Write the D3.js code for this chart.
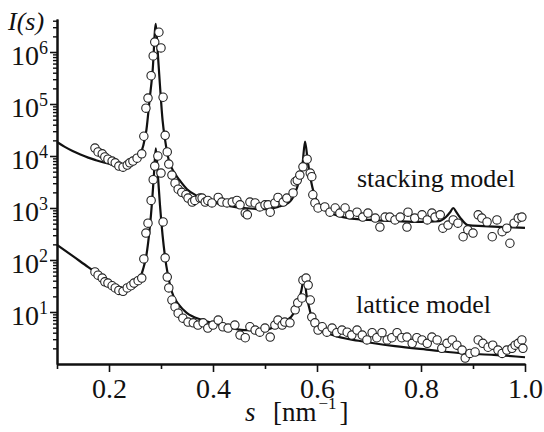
<!DOCTYPE html>
<html>
<head>
<meta charset="utf-8">
<script src="https://cdn.jsdelivr.net/npm/d3@7/dist/d3.min.js"></script>
<style>
  body { margin: 0; background: #fff; }
  svg { display: block; background: #fff; }
  svg text { font-family: "Liberation Serif", "DejaVu Serif", "Noto Serif", serif; }
</style>
</head>
<body>
<svg id="chart" width="544" height="432"></svg>
<script>
// ---- measured intensities, stacking model (upper set) ----
const stackS = [0.173,0.179,0.187,0.192,0.198,0.206,0.212,0.219,0.227,0.235,0.240,0.246,0.254,0.263,
  0.267,0.271,0.275,0.281,0.285,0.288,0.296,0.300,0.304,0.308,0.312,0.315,0.321,0.327,0.333,0.340,
  0.348,0.352,0.360,0.365,0.375,0.379,0.385,0.390,0.398,0.410,0.417,0.427,0.437,0.446,0.452,0.462,
  0.466,0.471,0.481,0.490,0.500,0.506,0.510,0.519,0.525,0.535,0.542,0.554,0.558,0.562,0.567,0.573,
  0.581,0.587,0.590,0.592,0.596,0.602,0.615,0.625,0.635,0.644,0.654,0.663,0.677,0.688,0.698,0.712,
  0.721,0.731,0.740,0.750,0.760,0.773,0.775,0.788,0.802,0.812,0.821,0.827,0.837,0.842,0.852,0.862,
  0.871,0.881,0.890,0.900,0.910,0.917,0.927,0.937,0.946,0.956,0.965,0.971,0.979,0.987,0.994];
const stackI = [1.42e4,1.2e4,1.1e4,9.6e3,8.7e3,8.0e3,7.4e3,6.4e3,6.1e3,6.7e3,7.4e3,8.0e3,9.1e3,1.1e4,
  2.4e4,8.3e4,1.3e5,3.5e5,8.4e5,1.55e6,2.4e6,1.2e6,1.35e5,2.5e4,1.2e4,7.0e3,4.3e3,3.0e3,2.3e3,2.0e3,
  1.8e3,1.55e3,1.3e3,1.4e3,1.55e3,1.55e3,1.3e3,1.4e3,1.25e3,1.6e3,1.3e3,1.25e3,1.3e3,1.4e3,1.15e3,800,
  740,1.3e3,1.25e3,1.05e3,1.15e3,1.15e3,830,1.25e3,1.6e3,1.3e3,1.55e3,1.95e3,3.2e3,3.4e3,4.3e3,6.2e3,
  8.7e3,4.7e3,4.0e3,1.8e3,1.25e3,1.0e3,1.05e3,830,1.0e3,800,1.0e3,740,830,670,800,640,
  430,670,670,590,670,430,830,640,740,590,800,670,740,410,470,590,
  510,280,380,330,740,640,540,280,590,350,410,210,510,640,670];

// ---- stacking model fit ----
const stackFitS = [0.100,0.115,0.130,0.145,0.160,0.175,0.190,0.205,0.220,0.235,0.248,0.258,0.266,0.272,
  0.278,0.284,0.290,0.294,0.298,0.303,0.308,0.315,0.325,0.335,0.350,0.370,0.400,0.430,0.460,0.500,
  0.525,0.545,0.558,0.566,0.572,0.577,0.582,0.588,0.595,0.605,0.620,0.650,0.700,0.750,0.800,0.835,
  0.848,0.856,0.862,0.868,0.876,0.890,0.920,0.960,1.000];
const stackFitI = [1.86e4,1.5e4,1.25e4,1.07e4,9.3e3,8.3e3,7.5e3,6.9e3,6.5e3,6.6e3,7.6e3,9.8e3,1.6e4,3.2e4,
  1.2e5,4.5e5,3.5e6,9.0e5,2.3e5,4.9e4,2.0e4,8.3e3,4.9e3,3.5e3,2.3e3,1.7e3,1.3e3,1.1e3,1.0e3,950,
  1.05e3,1.25e3,1.95e3,3.5e3,6.7e3,1.9e4,8.3e3,3.5e3,1.8e3,1.15e3,870,670,590,560,540,560,
  670,830,1.0e3,830,640,470,450,430,415];

// ---- measured intensities, lattice model (lower set) ----
const latS = [0.173,0.179,0.187,0.192,0.198,0.206,0.212,0.219,0.227,0.235,0.242,0.248,0.256,0.263,
  0.267,0.271,0.275,0.281,0.285,0.288,0.294,0.300,0.304,0.308,0.312,0.315,0.321,0.327,0.333,0.342,
  0.352,0.362,0.371,0.381,0.390,0.400,0.410,0.419,0.429,0.442,0.452,0.462,0.471,0.481,0.490,0.500,
  0.510,0.519,0.525,0.533,0.538,0.548,0.558,0.563,0.571,0.573,0.579,0.583,0.587,0.590,0.596,0.602,
  0.610,0.619,0.629,0.638,0.648,0.658,0.667,0.677,0.687,0.696,0.706,0.715,0.725,0.735,0.744,0.754,
  0.763,0.773,0.783,0.792,0.802,0.812,0.821,0.831,0.840,0.850,0.860,0.869,0.879,0.885,0.894,0.904,
  0.910,0.919,0.929,0.938,0.948,0.956,0.965,0.975,0.981,0.987,0.994,0.996];
const latI = [59,51,45,38,36,32,29,26,25,29,32,36,40,45,
  105,330,510,1.4e3,3.5e3,6.4e3,1.0e4,4.7e3,540,110,47,29,17,12.5,9.5,7.6,
  6.4,6.2,5.6,6.2,4.9,5.6,7.0,5.2,4.9,5.6,3.6,3.2,5.2,4.5,4.1,4.9,
  3.3,5.6,7.0,5.6,6.4,6.2,11,15,18.6,41,45,33,17,8,6.2,4.5,
  5.2,4.1,4.9,4.0,4.5,4.1,3.6,4.5,3.6,2.9,4.0,3.2,4.0,2.9,3.2,4.0,
  3.2,3.3,2.5,3.2,2.9,2.5,3.3,2.9,2.0,2.5,2.9,2.3,1.85,1.3,1.6,1.7,
  2.9,2.5,2.1,2.3,1.85,1.6,1.85,2.0,2.3,2.5,2.9,2.0];

// ---- lattice model fit ----
const latFitS = [0.100,0.130,0.160,0.185,0.205,0.225,0.240,0.255,0.265,0.272,0.278,0.283,0.287,0.290,
  0.294,0.298,0.303,0.310,0.320,0.335,0.350,0.380,0.420,0.460,0.500,0.530,0.550,0.562,0.570,0.575,
  0.580,0.587,0.600,0.630,0.680,0.750,0.820,0.880,0.940,1.000];
const latFitI = [195,120,73,49,36,29,27.5,36,64,125,380,1.4e3,5.4e3,1.4e4,
  4.3e3,1.15e3,300,80,26,13.5,9.5,7.0,5.4,4.5,4.5,6.2,8.0,13.5,26,45,
  21,10,5.1,3.6,2.8,2.2,1.85,1.6,1.5,1.35];

// ---- axis ticks ----
const xMajor = [0.2, 0.4, 0.6, 0.8, 1.0];
const xMinor = [0.1, 0.3, 0.5, 0.7, 0.9];
const yDecades = [1, 2, 3, 4, 5, 6];
const yMantissas = [2, 3, 4, 5, 6, 7, 8, 9];

const INK = "#111";

const svg = d3.select("#chart");
const x = d3.scaleLinear().domain([0.1, 1.0]).range([57, 525]);
const y = d3.scaleLog().domain([1, Math.pow(10, 6.635)]).range([364, 19]);

// minor y ticks: mantissa * 10^e inside the domain
const yMinor = [];
[0, 1, 2, 3, 4, 5, 6].forEach(e => yMantissas.forEach(m => {
  const v = m * Math.pow(10, e);
  if (v <= y.domain()[1]) yMinor.push(v);
}));

const axisStyle = g => {
  g.attr("font-family", null).attr("font-size", null);
  g.select(".domain").attr("stroke", INK).attr("stroke-width", 2);
  g.selectAll(".tick line").attr("stroke", INK).attr("stroke-width", 1.6);
};

// x axis
svg.append("g").attr("transform", "translate(0,364)")
  .call(d3.axisBottom(x).tickValues(xMinor).tickSize(5).tickSizeOuter(0).tickFormat(""))
  .call(axisStyle);
svg.append("g").attr("transform", "translate(0,364)")
  .call(d3.axisBottom(x).tickValues(xMajor).tickSize(8).tickSizeOuter(0).tickPadding(6)
    .tickFormat(d3.format(".1f")))
  .call(axisStyle)
  .call(g => g.selectAll(".tick text").attr("font-size", 28).attr("fill", INK));

// y axis
svg.append("g").attr("transform", "translate(57,0)")
  .call(d3.axisLeft(y).tickValues(yMinor).tickSize(4).tickSizeOuter(0).tickFormat(""))
  .call(axisStyle)
  .call(g => g.selectAll(".tick line").attr("stroke-width", 1.4));
svg.append("g").attr("transform", "translate(57,0)")
  .call(d3.axisLeft(y).tickValues(yDecades.map(e => Math.pow(10, e))).tickSize(7)
    .tickSizeOuter(0).tickPadding(2).tickFormat(""))
  .call(axisStyle)
  .call(g => g.selectAll(".tick text").each(function(d) {
    const t = d3.select(this).attr("font-size", 28).attr("dy", "0.45em").attr("fill", INK);
    t.append("tspan").text("10");
    t.append("tspan").attr("font-size", 18).attr("dy", "-0.62em")
      .text(Math.round(Math.log10(d)));
  }));

// fitted curves
const line = d3.line().x(d => x(d[0])).y(d => y(d[1])).curve(d3.curveMonotoneX);
const curves = [d3.zip(stackFitS, stackFitI), d3.zip(latFitS, latFitI)];
svg.append("g").selectAll("path").data(curves).join("path")
  .attr("d", line).attr("fill", "none").attr("stroke", INK)
  .attr("stroke-width", 2.2).attr("stroke-linejoin", "round");

// measured points
const pts = d3.zip(stackS, stackI).concat(d3.zip(latS, latI));
svg.append("g").selectAll("circle").data(pts).join("circle")
  .attr("cx", d => x(d[0])).attr("cy", d => y(d[1])).attr("r", 4.2)
  .attr("fill", "#fff").attr("stroke", "#222").attr("stroke-width", 1.1);

// labels
const label = (px, py, size, txt) => svg.append("text").attr("x", px).attr("y", py)
  .attr("font-size", size).attr("fill", INK).text(txt);
label(8, 30, 26, "I(s)").attr("font-style", "italic");
label(357, 187, 26, "stacking model");
label(356, 313, 26, "lattice model");

// axis title: s [nm^-1]
label(245, 421, 27, "s").attr("font-style", "italic");
const unit = label(273, 421, 27, "[nm");
unit.append("tspan").attr("font-size", 17).attr("dx", 2).attr("dy", -12).text("−1");
unit.append("tspan").attr("dx", 3).attr("dy", 12).text("]");
</script>
</body>
</html>
